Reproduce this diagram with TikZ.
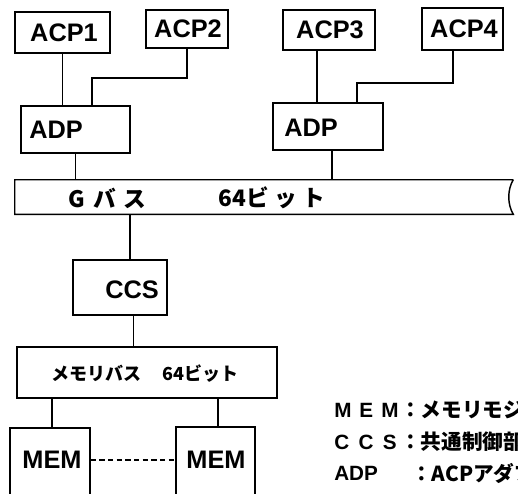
\documentclass[tikz,border=0pt]{standalone}
\usepackage{fontspec}
\setmainfont{Liberation Sans}
\newfontfamily\jfont{Noto Sans CJK JP}
\usetikzlibrary{fit}
\tikzset{
            unit/.style={draw, line width=1.1pt, inner sep=0pt},
            word/.style={inner sep=0pt, font=\fontsize{19}{19}\selectfont\bfseries},
            jword/.style={inner sep=0pt, font=\jfont\fontsize{17}{17}\selectfont\bfseries},
            key/.style={anchor=west, inner sep=0pt, font=\fontsize{15.5}{15.5}\selectfont\bfseries},
            jkey/.style={anchor=west, inner sep=0pt, font=\jfont\fontsize{15.5}{15.5}\selectfont\bfseries},
            link/.style={line width=1.1pt}
        }

\begin{document}
\begin{tikzpicture}[x=0.75pt, y=-0.75pt]
                \useasboundingbox (0,0) rectangle (518,493);
                \clip (0,0) rectangle (518,493);
                \node[unit, fit={(15,12) (110,53)}] (acp1) {};
                \node[word] (acp1txt) at (64,33) {ACP1};
                \node[unit, fit={(146,10) (228,48)}] (acp2) {};
                \node[word] (acp2txt) at (188,29) {ACP2};
                \node[unit, fit={(283,10) (375,50)}] (acp3) {};
                \node[word] (acp3txt) at (330,30) {ACP3};
                \node[unit, fit={(422,8) (503,50)}] (acp4) {};
                \node[word] (acp4txt) at (464,29) {ACP4};
                \node[unit, fit={(21,106) (130,153)}] (adp1) {};
                \node[word, anchor=west] (adp1txt) at (29,130) {ADP};
                \node[unit, fit={(273,103) (383,150)}] (adp2) {};
                \node[word, anchor=west] (adp2txt) at (284,128) {ADP};
                \node[fit={(15,180) (513,214)}, inner sep=0pt] (gbus) {};
                \node[jword] (gname) at (107,198) {G\hspace{7pt}バ\hspace{5pt}ス};
                \node[jword] (gwidth) at (272,198) {64ビ\hspace{4pt}ッ\hspace{4pt}ト};
                \node[unit, fit={(73,260) (167,315)}] (ccs) {};
                \node[word] (ccstxt) at (132,290) {CCS};
                \node[unit, fit={(17,347) (277,398)}] (mbus) {};
                \node[jword, font=\jfont\fontsize{13.5}{13.5}\selectfont\bfseries] (mname) at (145,374) {メモリバス\hspace{16pt}64ビット};
                \node[unit, fit={(10,428) (90,500)}] (mem1) {};
                \node[word] (mem1txt) at (52,460) {MEM};
                \node[unit, fit={(176,427) (255,500)}] (mem2) {};
                \node[word] (mem2txt) at (216,460) {MEM};
                \node[key] (k1) at (334,410) {M\hspace{6pt}E\hspace{6pt}M};
                \node[jkey] (d1) at (400,410) {：メモリモジュール};
                \node[key] (k2) at (334,442) {C\hspace{7pt}C\hspace{7pt}S};
                \node[jkey] (d2) at (400,442) {：共通制御部};
                \node[key] (k3) at (334,473) {ADP};
                \node[jkey] (d3) at (411,473) {：ACPアダプタ};
                \coordinate (j1) at (92,78);
                \coordinate (j2) at (357,83);
                \draw[link] (gbus.north east) -- (gbus.north west) -- (gbus.south west) -- (gbus.south east)
                    .. controls +(-6,-10) and +(-6,10) .. (gbus.north east);
                \draw[link] (acp1.south) -- (acp1.south |- adp1.north);
                \draw[link] (acp2.south) |- (j1) -- (j1 |- adp1.north);
                \draw[link] ([xshift=-9pt]acp3.south) -- ([xshift=-9pt]acp3.south |- adp2.north);
                \draw[link] ([xshift=-7pt]acp4.south) |- (j2) -- (j2 |- adp2.north);
                \draw[link] (adp1.south) -- (adp1.south |- gbus.north);
                \draw[link] ([xshift=3pt]adp2.south) -- ([xshift=3pt]adp2.south |- gbus.north);
                \draw[link] ([xshift=7.5pt]ccs.north) -- ([xshift=7.5pt]ccs.north |- gbus.south);
                \draw[link] ([xshift=10pt]ccs.south) -- ([xshift=10pt]ccs.south |- mbus.north);
                \draw[link] ([xshift=1.5pt]mem1.north) -- ([xshift=1.5pt]mem1.north |- mbus.south);
                \draw[link] ([xshift=2pt]mem2.north) -- ([xshift=2pt]mem2.north |- mbus.south);
                \draw[link, dash pattern=on 4pt off 2.5pt] (mem1.east |- mem1txt) -- (mem2.west |- mem1txt);
            \end{tikzpicture}
\end{document}
